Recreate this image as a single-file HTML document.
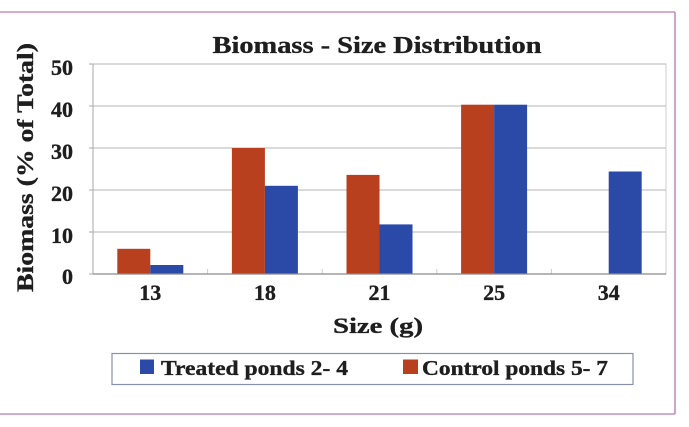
<!DOCTYPE html>
<html>
<head>
<meta charset="utf-8">
<style>
html,body{margin:0;padding:0;background:#fff;}
svg{display:block;}
text{font-family:"Liberation Serif",serif;font-weight:bold;fill:#1e1e1e;stroke:#1e1e1e;stroke-width:0.35;}
</style>
</head>
<body>
<svg width="689" height="427" viewBox="0 0 689 427" xmlns="http://www.w3.org/2000/svg">
<rect x="0" y="0" width="689" height="427" fill="#fff"/>
<!-- frame -->
<line x1="0" y1="12" x2="675" y2="12" stroke="#c490c4" stroke-width="1.6"/>
<line x1="675" y1="12" x2="675" y2="414" stroke="#c490c4" stroke-width="1.6"/>
<line x1="0" y1="414" x2="675" y2="414" stroke="#c490c4" stroke-width="1.6"/>

<!-- title -->
<text x="377" y="53" font-size="24" text-anchor="middle" textLength="329" lengthAdjust="spacingAndGlyphs">Biomass - Size Distribution</text>

<!-- plot area -->
<rect x="93" y="64" width="573" height="210" fill="#fff" stroke="#cfcfcf" stroke-width="1"/>
<g stroke="#c4c4c4" stroke-width="1.2">
<line x1="93" y1="64" x2="666" y2="64"/>
<line x1="93" y1="106" x2="666" y2="106"/>
<line x1="93" y1="148" x2="666" y2="148"/>
<line x1="93" y1="190" x2="666" y2="190"/>
<line x1="93" y1="232" x2="666" y2="232"/>
</g>
<g stroke="#aaa" stroke-width="1">
<line x1="89" y1="64" x2="93" y2="64"/>
<line x1="89" y1="106" x2="93" y2="106"/>
<line x1="89" y1="148" x2="93" y2="148"/>
<line x1="89" y1="190" x2="93" y2="190"/>
<line x1="89" y1="232" x2="93" y2="232"/>
<line x1="89" y1="274" x2="93" y2="274"/>
<line x1="93" y1="64" x2="93" y2="274"/>
<line x1="207.6" y1="269" x2="207.6" y2="274" stroke="#ccc"/>
<line x1="322.2" y1="269" x2="322.2" y2="274" stroke="#ccc"/>
<line x1="436.8" y1="269" x2="436.8" y2="274" stroke="#ccc"/>
<line x1="551.4" y1="269" x2="551.4" y2="274" stroke="#ccc"/>
</g>

<!-- bars -->
<g fill="#b8401e">
<rect x="117.3" y="248.8" width="33" height="25.2"/>
<rect x="231.9" y="148" width="33" height="126"/>
<rect x="346.5" y="174.9" width="33" height="99.1"/>
<rect x="461.1" y="104.7" width="33" height="169.3"/>
</g>
<g fill="#2b4aa8">
<rect x="150.3" y="265" width="33" height="9"/>
<rect x="264.9" y="185.8" width="33" height="88.2"/>
<rect x="379.5" y="224.4" width="33" height="49.6"/>
<rect x="494.1" y="104.7" width="33" height="169.3"/>
<rect x="608.7" y="171.5" width="33" height="102.5"/>
</g>
<line x1="93" y1="274" x2="666" y2="274" stroke="#8a8a8a" stroke-width="1.2"/>

<!-- y tick labels -->
<g font-size="22" text-anchor="end">
<text x="73" y="75">50</text>
<text x="73" y="117">40</text>
<text x="73" y="159">30</text>
<text x="73" y="201">20</text>
<text x="73" y="243">10</text>
<text x="73" y="284">0</text>
</g>

<!-- y axis title -->
<text transform="translate(33,167.5) rotate(-90)" font-size="23" text-anchor="middle" textLength="249" lengthAdjust="spacingAndGlyphs">Biomass (% of Total)</text>

<!-- x tick labels -->
<g font-size="22" text-anchor="middle">
<text x="150.3" y="300">13</text>
<text x="264.9" y="300">18</text>
<text x="379.5" y="300">21</text>
<text x="494.1" y="300">25</text>
<text x="608.7" y="300">34</text>
</g>
<text x="378" y="333" font-size="22" text-anchor="middle" textLength="90" lengthAdjust="spacingAndGlyphs">Size (g)</text>

<!-- legend -->
<rect x="112" y="353.5" width="521" height="31" fill="#fff" stroke="#8890a8" stroke-width="1.2"/>
<rect x="140" y="359.5" width="14" height="14.5" fill="#2b4aa8"/>
<text x="161" y="375" font-size="21" textLength="187" lengthAdjust="spacingAndGlyphs">Treated ponds 2- 4</text>
<rect x="403" y="359.5" width="15" height="14.5" fill="#b8401e"/>
<text x="422" y="375" font-size="21" textLength="186" lengthAdjust="spacingAndGlyphs">Control ponds 5- 7</text>
</svg>
</body>
</html>
